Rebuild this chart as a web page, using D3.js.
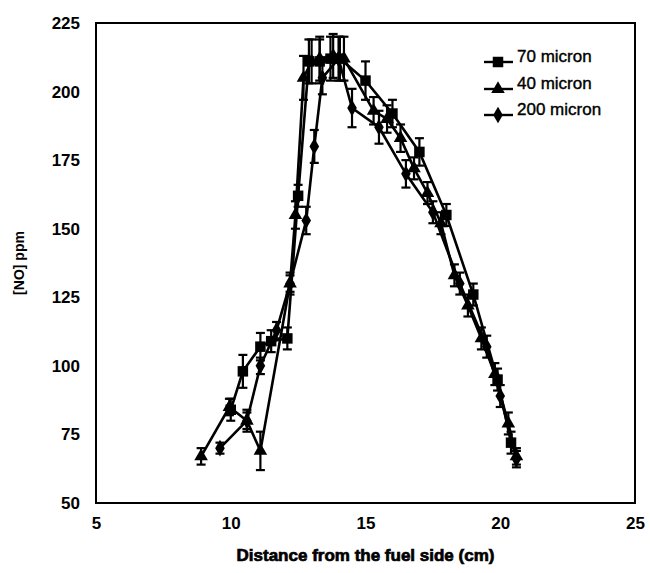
<!DOCTYPE html>
<html><head><meta charset="utf-8">
<script src="https://cdn.jsdelivr.net/npm/d3@7"></script>
<style>body{margin:0;background:#fff}svg{display:block}</style>
</head><body>
<svg id="c" width="650" height="573"></svg>
<script>
// Data
const seriesNames = ["70 micron", "40 micron", "200 micron"];
const x70  = [10.0, 10.45, 11.1, 11.5, 12.1, 12.5, 12.9, 13.3, 13.7, 14.05, 15.0, 16.0, 17.0, 18.0, 19.0, 19.9, 20.4];
const y70  = [84, 98, 107, 109, 110, 162, 211, 211, 212, 212, 204, 192, 178, 155, 126, 95, 72];
const e70  = [4, 6, 5, 4, 4, 4, 8, 8, 8, 8, 7, 5, 5, 4, 4, 4, 4];
const x40  = [8.9, 9.95, 10.6, 11.1, 12.2, 12.4, 12.7, 13.0, 13.3, 13.8, 14.2, 15.3, 15.8, 16.3, 16.8, 17.3, 17.8, 18.3, 18.8, 19.3, 19.8, 20.3, 20.6];
const y40  = [67, 85, 80, 69, 130, 155, 205, 211, 212, 213, 212, 193, 190, 183, 172, 163, 152, 133, 122, 110, 97, 79, 67];
const e40  = [3, 3, 4, 7, 4, 5, 8, 8, 8, 8, 8, 5, 5, 5, 4, 4, 4, 4, 4, 4, 4, 4, 3];
const x200 = [9.6, 10.6, 11.1, 11.7, 12.2, 12.8, 13.1, 13.4, 14.0, 14.5, 15.5, 16.5, 17.5, 18.5, 19.5, 20.0, 20.6];
const y200 = [70, 80, 100, 113, 130, 153, 180, 205, 212, 194, 187, 170, 156, 130, 107, 89, 66];
const e200 = [2, 3, 3, 3, 3, 5, 6, 6, 8, 7, 6, 5, 4, 4, 4, 4, 3];
const xTicks = [5, 10, 15, 20, 25];
const yTicks = [50, 75, 100, 125, 150, 175, 200, 225];

const svg = d3.select("#c");
const L = 96, R = 635, T = 23, B = 503;
const x = d3.scaleLinear().domain([5, 25]).range([L, R]);
const y = d3.scaleLinear().domain([50, 225]).range([B, T]);

// axes (labels only)
const font = "'Liberation Sans', Arial, sans-serif";
const ya = svg.append("g").attr("transform", `translate(${L},0)`)
  .call(d3.axisLeft(y).tickValues(yTicks).tickSize(0).tickPadding(16));
ya.select(".domain").remove();
ya.selectAll("text").attr("font-family", font).attr("font-size", 17).attr("font-weight", "bold").attr("fill", "#000");
const xa = svg.append("g").attr("transform", `translate(0,${B})`)
  .call(d3.axisBottom(x).tickValues(xTicks).tickSize(0).tickPadding(14));
xa.select(".domain").remove();
xa.selectAll("text").attr("font-family", font).attr("font-size", 17).attr("font-weight", "bold").attr("fill", "#000");

// frame
svg.append("rect").attr("x", L).attr("y", T).attr("width", R - L).attr("height", B - T)
  .attr("fill", "none").attr("stroke", "#000").attr("stroke-width", 2);

// titles
svg.append("text").attr("x", (L + R) / 2).attr("y", 561).attr("text-anchor", "middle")
  .attr("font-family", font).attr("font-size", 17).attr("font-weight", "bold")
  .attr("stroke", "#000").attr("stroke-width", 0.7)
  .text("Distance from the fuel side (cm)");
svg.append("text").attr("transform", `translate(24,${(T + B) / 2}) rotate(-90)`)
  .attr("text-anchor", "middle").attr("font-family", font).attr("font-size", 14).attr("font-weight", "bold")
  .text("[NO] ppm");

const series = [
  {name: seriesNames[0], xs: x70, ys: y70, es: e70, sym: d3.symbolSquare, size: 110},
  {name: seriesNames[1], xs: x40, ys: y40, es: e40, sym: d3.symbolTriangle, size: 80},
  {name: seriesNames[2], xs: x200, ys: y200, es: e200, sym: d3.symbolDiamond, size: 80},
];
const line = d3.line().x(d => x(d[0])).y(d => y(d[1]));

series.forEach(s => {
  const pts = s.xs.map((v, i) => [v, s.ys[i], s.es[i]]);
  const g = svg.append("g");
  // error bars
  pts.forEach(p => {
    g.append("line").attr("x1", x(p[0])).attr("x2", x(p[0]))
      .attr("y1", y(p[1] - p[2])).attr("y2", y(p[1] + p[2])).attr("stroke", "#000").attr("stroke-width", 2.2);
    [p[1] - p[2], p[1] + p[2]].forEach(v => g.append("line")
      .attr("x1", x(p[0]) - 4.5).attr("x2", x(p[0]) + 4.5).attr("y1", y(v)).attr("y2", y(v))
      .attr("stroke", "#000").attr("stroke-width", 2.2));
  });
  g.append("path").datum(pts).attr("d", line).attr("fill", "none").attr("stroke", "#000").attr("stroke-width", 2.6);
  g.selectAll(".m").data(pts).enter().append("path")
    .attr("transform", d => `translate(${x(d[0])},${y(d[1])})`)
    .attr("d", d3.symbol().type(s.sym).size(s.size)).attr("fill", "#000");
});

// legend
const legY = [62, 89, 115];
series.forEach((s, i) => {
  const g = svg.append("g").attr("transform", `translate(0,${legY[i]})`);
  g.append("line").attr("x1", 484).attr("x2", 513).attr("y1", 0).attr("y2", 0).attr("stroke", "#000").attr("stroke-width", 2.4);
  g.append("path").attr("transform", "translate(498,0)").attr("d", d3.symbol().type(s.sym).size(s.size)).attr("fill", "#000");
  g.append("text").attr("x", 517).attr("y", 0).attr("font-family", font).attr("font-size", 17)
    .attr("fill", "#000").attr("stroke", "#000").attr("stroke-width", 0.4).text(s.name);
});
</script>
</body></html>
